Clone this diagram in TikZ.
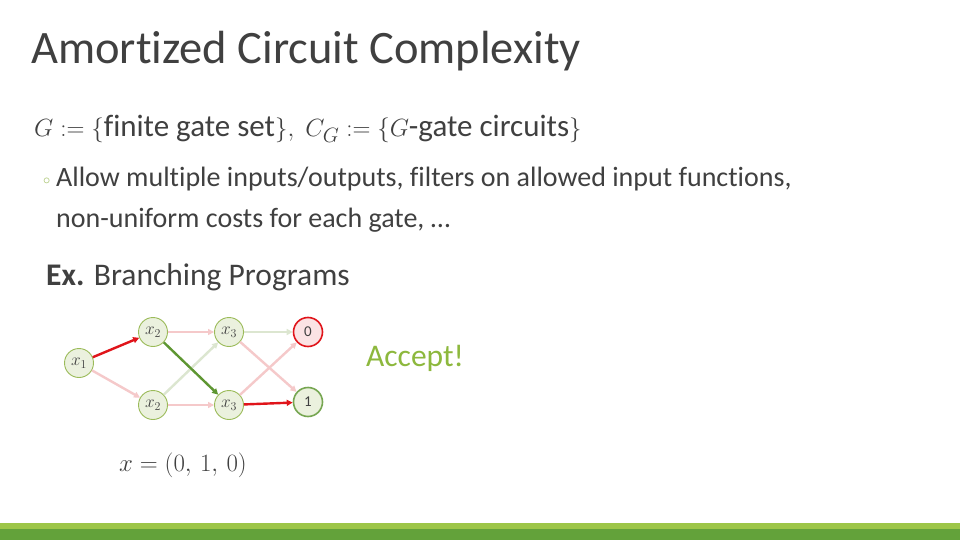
\documentclass[tikz,border=0pt]{standalone}
\usepackage{amsmath,amssymb}
\usepackage{fontspec}
\setmainfont{Carlito}[Ligatures=NoCommon]
\usepackage{xcolor}
\usetikzlibrary{arrows.meta,positioning,calc}
\definecolor{titlegray}{HTML}{404040}
\definecolor{nodefill}{HTML}{EBF1DE}
\definecolor{nodeline}{HTML}{9BBB59}
\definecolor{red2}{HTML}{E0141A}
\definecolor{pink2}{HTML}{F5C9CA}
\definecolor{green2}{HTML}{5E9632}
\definecolor{palegreen}{HTML}{DCE6D0}
\definecolor{accept}{HTML}{8DB83D}
\definecolor{barlight}{HTML}{9DC648}
\definecolor{bardark}{HTML}{63A23A}

\begin{document}
\begin{tikzpicture}[
      x=1pt, y=-1pt,
      every node/.style={text=titlegray},
      var/.style={draw=nodeline,circle,fill=nodefill,minimum size=29pt,inner sep=0pt,line width=0.9pt,font=\fontsize{18}{18}\selectfont},
      rej/.style={draw=red2,circle,fill=red2!12,minimum size=29pt,inner sep=0pt,line width=1.6pt,font=\fontsize{15}{15}\selectfont},
      acc/.style={draw=green2!85,circle,fill=nodefill,minimum size=29pt,inner sep=0pt,line width=1.6pt,font=\fontsize{15}{15}\selectfont},
      edge/.style={-{Triangle[length=6pt,width=6pt]},line width=2.4pt},
      hot/.style={edge,red2},
      good/.style={edge,green2},
      faint/.style={edge,pink2},
      faintg/.style={edge,palegreen}
  ]
    \useasboundingbox (0,0) rectangle (960,540);
    \fill[white] (0,0) rectangle (960,540);

    % footer bar
    \fill[barlight] (0,523) rectangle (960,529);
    \fill[bardark] (0,529) rectangle (960,540);

    % title and bullets
    \node[anchor=base west,font=\fontsize{46.5}{46.5}\selectfont,inner sep=0pt] (title) at (31,64) {Amortized Circuit Complexity};
    \node[anchor=base west,font=\fontsize{31}{31}\selectfont,inner sep=0pt] (def) at (34,137)
      {$G \mathrel{:=} \{\text{finite gate set}\},\ C_G \mathrel{:=} \{G\text{-gate circuits}\}$};
    \node[anchor=base west,font=\fontsize{14}{14}\selectfont,inner sep=0pt,text=nodeline] (dot) at (43,184) {$\circ$};
    \node[anchor=base west,font=\fontsize{28}{28}\selectfont,inner sep=0pt] (b1) at (56,186)
      {Allow multiple inputs/outputs, filters on allowed input functions,};
    \node[anchor=base west,font=\fontsize{28}{28}\selectfont,inner sep=0pt] (b2) at (56,227)
      {non-uniform costs for each gate, \dots};
    \node[anchor=base west,font=\fontsize{31.5}{31.5}\selectfont,inner sep=0pt] (ex) at (46,285)
      {\textbf{Ex.} Branching Programs};

    % branching program
    \node[var] (a1) at (79,363) {$x_1$};
    \node[var] (b2u) at (153,332) {$x_2$};
    \node[var] (b2d) at (153,405) {$x_2$};
    \node[var] (c3u) at (229,332) {$x_3$};
    \node[var] (c3d) at (229,405) {$x_3$};
    \node[rej] (out0) at (308,332) {0};
    \node[acc] (out1) at (308,402) {1};

    \draw[faint] (a1) -- (b2d);
    \draw[faint] (b2u) -- (c3u);
    \draw[faintg] (b2d) -- (c3u);
    \draw[faint] (b2d) -- (c3d);
    \draw[faintg] (c3u) -- (out0);
    \draw[faint] (c3u) -- (out1);
    \draw[faint] (c3d) -- (out0);
    \draw[hot] (a1) -- (b2u);
    \draw[good] (b2u) -- (c3d);
    \draw[hot] (c3d) -- (out1);

    \node[font=\fontsize{31.5}{31.5}\selectfont,text=accept] (verdict) at (415,358) {Accept!};
    \node[anchor=base west,font=\fontsize{36}{36}\selectfont,inner sep=0pt] (input) at (119,471) {$x=(0,\mkern3mu1,\mkern3mu0)$};
  \end{tikzpicture}
\end{document}
